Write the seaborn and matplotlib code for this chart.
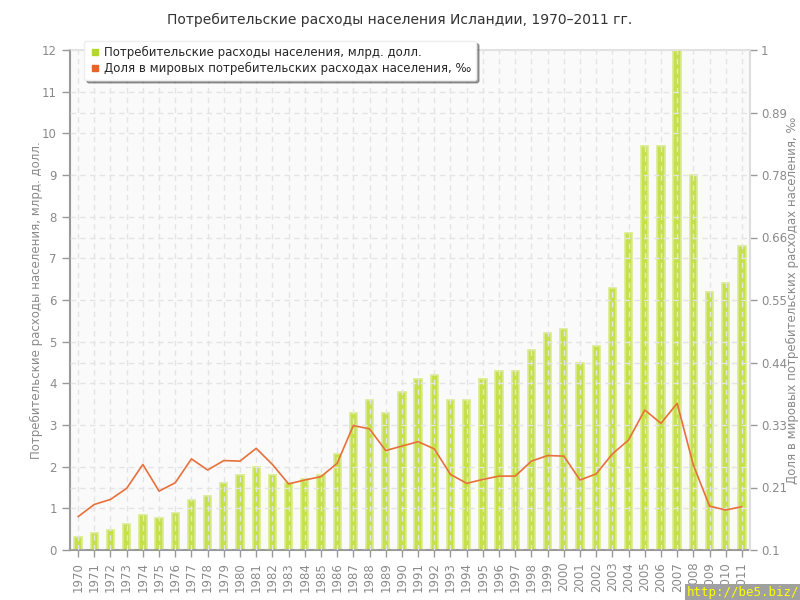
#!/usr/bin/env python3
"""
Iceland household consumption 1970-2011: bars (bn USD) + share of world (per mille).
"""
import numpy as np
import pandas as pd
import matplotlib
matplotlib.use("Agg")
import matplotlib.pyplot as plt
import seaborn as sns
from matplotlib.lines import Line2D

# --- data ---
years = list(range(1970, 2012))
spending = [0.32, 0.40, 0.48, 0.62, 0.84, 0.78, 0.90, 1.2, 1.3, 1.6,
            1.8, 2.0, 1.8, 1.6, 1.7, 1.8, 2.3, 3.3, 3.6, 3.3,
            3.8, 4.1, 4.2, 3.6, 3.6, 4.1, 4.3, 4.3, 4.8, 5.2,
            5.3, 4.5, 4.9, 6.3, 7.6, 9.7, 9.7, 12.0, 9.0, 6.2,
            6.4, 7.3]
share = [0.160, 0.182, 0.191, 0.211, 0.254, 0.206, 0.221, 0.264, 0.244, 0.261,
         0.260, 0.283, 0.254, 0.219, 0.226, 0.232, 0.256, 0.324, 0.318, 0.279,
         0.287, 0.295, 0.282, 0.236, 0.220, 0.227, 0.233, 0.233, 0.260, 0.270,
         0.269, 0.226, 0.237, 0.273, 0.298, 0.352, 0.328, 0.364, 0.253, 0.179,
         0.172, 0.178]
right_ticks = [0.1, 0.2125, 0.325, 0.4375, 0.55, 0.6625, 0.775, 0.8875, 1.0]
right_labels = ["0.1", "0.21", "0.33", "0.44", "0.55", "0.66", "0.78", "0.89", "1"]

TITLE = "Потребительские расходы населения Исландии, 1970–2011 гг."
BAR_LABEL = "Потребительские расходы населения, млрд. долл."
LINE_LABEL = "Доля в мировых потребительских расходах населения, ‰"

BAR_COLOR = "#c5e04b"
BAR_EDGE = "#d9ec8c"
LINE_COLOR = "#e8703a"
TEXT_GRAY = "#8a8a8a"
GRID = "#e4e4e4"

df = pd.DataFrame({"year": [str(y) for y in years], "pos": np.arange(len(years)),
                   "spending": spending, "share": share})

sns.set_theme(style="white")
plt.rcParams["font.family"] = ["DejaVu Sans"]

fig = plt.figure(figsize=(8, 6), dpi=100)
ax = fig.add_axes([70 / 800, 50 / 600, 680 / 800, 500 / 600])
ax.set_facecolor("#fafafa")

sns.barplot(data=df, x="year", y="spending", ax=ax, color=BAR_COLOR, width=0.45,
            edgecolor=BAR_EDGE, linewidth=1.2, saturation=1, zorder=1)

ax.set_xlim(-0.5, len(years) - 0.5)
ax.set_ylim(0, 12)
ax.set_yticks(range(0, 13))
ax.set_yticks([1.5, 4.5, 7.5, 10.5], minor=True)
ax.set_axisbelow(False)
ax.grid(True, which="both", axis="both", color=GRID, ls=(0, (4, 3)), lw=1, zorder=2)
ax.tick_params(axis="y", which="minor", length=0)
ax.tick_params(axis="y", which="major", direction="out", length=6, width=1,
               color="#999999", labelcolor=TEXT_GRAY, labelsize=8.5, left=True)
ax.tick_params(axis="x", direction="out", length=5, width=1, color="#999999",
               labelcolor=TEXT_GRAY, labelsize=8.5, rotation=90, bottom=True)
ax.set_xlabel("")
ax.set_ylabel(BAR_LABEL, color=TEXT_GRAY, fontsize=8.5)
ax.yaxis.set_label_coords(-27 / 680, 0.5)

for side in ["left", "bottom"]:
    ax.spines[side].set_color("#999999")
    ax.spines[side].set_linewidth(1.5)
ax.spines["top"].set_color("#dddddd")
ax.spines["right"].set_color("#dddddd")

# share line on the right axis
ax2 = ax.twinx()
sns.lineplot(data=df, x="pos", y="share", ax=ax2, color=LINE_COLOR, lw=1.2)
ax2.set_ylim(0.1, 1.0)
ax2.set_yticks(right_ticks)
ax2.set_yticklabels(right_labels)
ax2.tick_params(axis="y", direction="out", length=5, width=1, color="#999999",
                labelcolor=TEXT_GRAY, labelsize=8.5, right=True, pad=3)
ax2.set_ylabel(LINE_LABEL, color=TEXT_GRAY, fontsize=8.5)
ax2.yaxis.set_label_coords(1 + 36 / 680, 0.5)
ax2.set_xlabel("")
for side in ["left", "bottom", "top"]:
    ax2.spines[side].set_visible(False)
ax2.spines["right"].set_color("#dddddd")
ax2.spines["right"].set_linewidth(1.5)

handles = [Line2D([], [], marker="s", ls="none", color="#b5d62e", markersize=5),
           Line2D([], [], marker="s", ls="none", color="#e4632e", markersize=5)]
leg = ax2.legend(handles, [BAR_LABEL, LINE_LABEL], loc="upper left",
                 bbox_to_anchor=(0.012, 1.03), fontsize=8.5, frameon=True,
                 fancybox=True, shadow=True, handletextpad=0.3,
                 borderpad=0.4, labelspacing=0.3, handlelength=1.0)
leg.get_frame().set_edgecolor("#eeeeee")
leg.get_frame().set_facecolor("white")
leg.get_frame().set_alpha(1)

fig.suptitle(TITLE, y=0.978, fontsize=10, color="#333333")
fig.text(0.999, 0.002, "http://be5.biz/", ha="right", va="bottom",
         family="DejaVu Sans Mono", fontsize=9, color="#ffff00",
         bbox=dict(boxstyle="square,pad=0.15", fc="#a0a0a0", ec="none"))

fig.savefig("out.png", dpi=100)
